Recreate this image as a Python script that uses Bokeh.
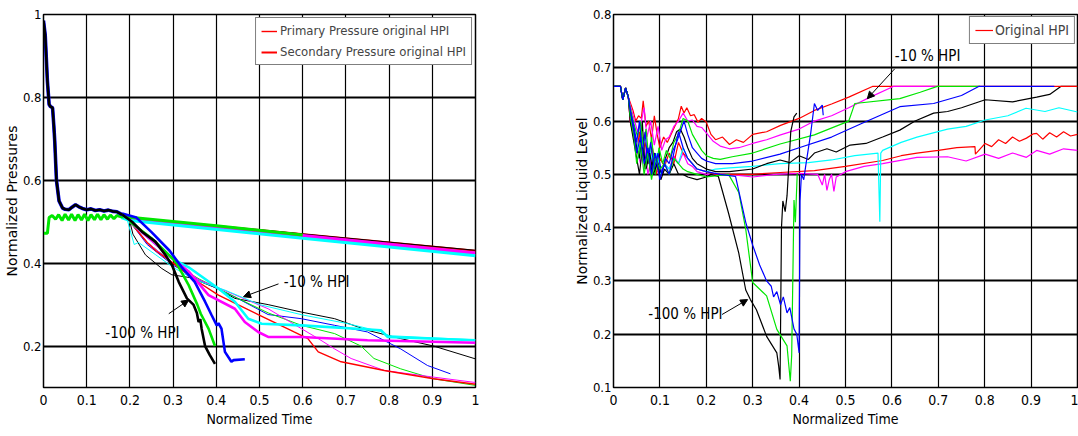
from bokeh.plotting import figure
from bokeh.layouts import row
from bokeh.models import Range1d, FixedTicker, Legend, LegendItem, Arrow, NormalHead, ColumnDataSource
from bokeh.core.properties import value
from bokeh.embed import file_html
from bokeh.resources import INLINE

NARROW = "DejaVu Sans Condensed"
SANS = "DejaVu Sans"
RED, MAG, GRN, BLU, BLK, CYN = "#ff0000", "#ff00ff", "#00e600", "#0000ff", "#000000", "#00ffff"

XTICKS = [0, 0.1, 0.2, 0.3, 0.4, 0.5, 0.6, 0.7, 0.8, 0.9, 1]
YTICKS_L = [0.2, 0.4, 0.6, 0.8, 1]
YTICKS_R = [0.1, 0.2, 0.3, 0.4, 0.5, 0.6, 0.7, 0.8]

# ---------------- left panel: pressures ----------------
P_COMMON_X = [0, 0.004, 0.009, 0.013, 0.016, 0.021, 0.024, 0.026, 0.03, 0.036, 0.044, 0.05, 0.059, 0.066, 0.074,
              0.082, 0.09, 0.1, 0.11, 0.12, 0.13, 0.14, 0.15, 0.16, 0.17, 0.182]
P_COMMON_Y = [0.985, 0.95, 0.84, 0.783, 0.778, 0.775, 0.73, 0.695, 0.6, 0.55, 0.533, 0.53, 0.529, 0.535, 0.541,
              0.536, 0.532, 0.529, 0.531, 0.527, 0.529, 0.526, 0.528, 0.525, 0.524, 0.517]

P_BLK100_X = [0.182, 0.205, 0.228, 0.259, 0.282, 0.297, 0.313, 0.332, 0.347, 0.355, 0.359, 0.363, 0.366, 0.374, 0.385, 0.397]
P_BLK100_Y = [0.517, 0.50, 0.476, 0.452, 0.42, 0.396, 0.355, 0.315, 0.3, 0.28, 0.258, 0.265, 0.242, 0.2, 0.178, 0.157]
P_BLU_X = [0.182, 0.215, 0.25, 0.292, 0.32, 0.35, 0.374, 0.389, 0.401, 0.405, 0.412, 0.42, 0.435, 0.44, 0.466]
P_BLU_Y = [0.52, 0.51, 0.475, 0.43, 0.39, 0.355, 0.307, 0.275, 0.25, 0.255, 0.242, 0.186, 0.162, 0.166, 0.168]
P_GRN_X = [0.2, 0.25, 0.3, 0.308, 0.336, 0.356, 0.364, 0.382, 0.397]
P_GRN_Y = [0.5, 0.46, 0.41, 0.4, 0.347, 0.3, 0.278, 0.242, 0.2]
P_MAG_X = [0.2, 0.25, 0.3, 0.336, 0.382, 0.443, 0.466, 0.497, 0.52, 0.597, 0.75, 1.0]
P_MAG_Y = [0.5, 0.455, 0.41, 0.38, 0.323, 0.29, 0.258, 0.234, 0.222, 0.222, 0.214, 0.208]
P_CYN_X = [0.2, 0.25, 0.3, 0.336, 0.405, 0.443, 0.474, 0.505, 0.597, 0.781, 0.797, 1.0]
P_CYN_Y = [0.5, 0.455, 0.41, 0.39, 0.339, 0.307, 0.266, 0.254, 0.25, 0.238, 0.222, 0.214]

T_BLK_X = [0.2, 0.207, 0.236, 0.274, 0.297, 0.34, 0.4, 0.443, 0.52, 0.597, 0.674, 0.75, 0.827, 0.903, 1.0]
T_BLK_Y = [0.5, 0.47, 0.42, 0.387, 0.372, 0.365, 0.34, 0.315, 0.3, 0.282, 0.266, 0.238, 0.218, 0.2, 0.169]
T_BLU_X = [0.2, 0.24, 0.3, 0.36, 0.44, 0.52, 0.597, 0.674, 0.75, 0.827, 0.889, 0.942]
T_BLU_Y = [0.5, 0.445, 0.395, 0.36, 0.32, 0.276, 0.266, 0.25, 0.234, 0.193, 0.153, 0.133]
T_GRN_X = [0.2, 0.24, 0.3, 0.36, 0.44, 0.52, 0.597, 0.674, 0.735, 0.765, 0.827, 0.903, 1.0]
T_GRN_Y = [0.5, 0.45, 0.40, 0.362, 0.32, 0.28, 0.25, 0.23, 0.2, 0.17, 0.145, 0.121, 0.105]
T_RED_X = [0.2, 0.24, 0.26, 0.3, 0.35, 0.405, 0.497, 0.58, 0.612, 0.636, 0.689, 0.789, 0.903, 1.0]
T_RED_Y = [0.5, 0.45, 0.43, 0.4, 0.36, 0.323, 0.276, 0.234, 0.218, 0.186, 0.162, 0.141, 0.121, 0.108]
T_MAG_X = [0.2, 0.24, 0.3, 0.36, 0.44, 0.52, 0.597, 0.636, 0.674, 0.712, 0.789, 0.903, 1.0]
T_MAG_Y = [0.5, 0.45, 0.4, 0.36, 0.325, 0.29, 0.242, 0.218, 0.193, 0.17, 0.141, 0.125, 0.112]
T_CYN_X = [0.18, 0.195, 0.21, 0.22, 0.26, 0.3, 0.35, 0.42, 0.5, 0.6, 0.7, 0.78, 0.8, 1.0]
T_CYN_Y = [0.517, 0.5, 0.445, 0.45, 0.42, 0.39, 0.36, 0.335, 0.3, 0.275, 0.255, 0.235, 0.225, 0.215]

S_GRN_X = [0, 0.009, 0.013, 0.02, 0.028, 0.035, 0.043, 0.05, 0.058, 0.065, 0.073, 0.08, 0.088, 0.095, 0.103, 0.11,
           0.118, 0.125, 0.133, 0.14, 0.148, 0.155, 0.163, 0.17, 0.18, 0.2, 0.4, 0.6]
S_GRN_Y = [0.472, 0.472, 0.51, 0.515, 0.506, 0.517, 0.503, 0.518, 0.504, 0.518, 0.503, 0.517, 0.504, 0.518, 0.503, 0.517,
           0.505, 0.518, 0.505, 0.517, 0.506, 0.516, 0.507, 0.515, 0.512, 0.511, 0.49, 0.468]
S_MAG_X = [0.2, 0.6, 1.0]
S_MAG_Y = [0.508, 0.466, 0.424]
S_CYN_X = [0.18, 0.2, 0.6, 1.0]
S_CYN_Y = [0.51, 0.503, 0.46, 0.418]
S_RED_X = [0.18, 1.0]
S_RED_Y = [0.512, 0.43]
S_BLK_X = [0.2, 1.0]
S_BLK_Y = [0.51, 0.431]

ANN_L_TEXT = ["-10 % HPI", "-100 % HPI"]
ANN_L_TX = [0.556, 0.143]
ANN_L_TY = [0.355, 0.232]
ANN_L_AX0 = [0.544, 0.29]
ANN_L_AY0 = [0.35, 0.278]
ANN_L_AX1 = [0.463, 0.336]
ANN_L_AY1 = [0.319, 0.311]

# ---------------- right panel: liquid level ----------------
L_START_X = [0, 0.015, 0.02, 0.026, 0.032]
L_START_Y = [0.665, 0.665, 0.64, 0.662, 0.645]

L_RED_X = [0.036, 0.042, 0.048, 0.054, 0.06, 0.064, 0.07, 0.076, 0.082, 0.088, 0.094, 0.1, 0.108, 0.116, 0.124, 0.132,
           0.14, 0.146, 0.152, 0.158, 0.166, 0.174, 0.182, 0.19, 0.2, 0.21, 0.22, 0.235, 0.25, 0.265, 0.28, 0.3, 0.33,
           0.36, 0.4, 0.433, 0.47, 0.507, 0.558, 1.0]
L_RED_Y = [0.635, 0.62, 0.6, 0.61, 0.605, 0.638, 0.59, 0.6, 0.565, 0.61, 0.575, 0.55, 0.57, 0.56, 0.575, 0.59,
           0.605, 0.628, 0.615, 0.625, 0.61, 0.612, 0.598, 0.605, 0.598, 0.575, 0.565, 0.57, 0.556, 0.565, 0.56, 0.575,
           0.58, 0.592, 0.605, 0.62, 0.632, 0.645, 0.665, 0.665]
L_MAG_X = [0.036, 0.044, 0.052, 0.06, 0.066, 0.072, 0.08, 0.088, 0.096, 0.104, 0.112, 0.12, 0.13, 0.14, 0.15, 0.16,
           0.17, 0.18, 0.19, 0.2, 0.215, 0.23, 0.25, 0.27, 0.3, 0.33, 0.36, 0.4, 0.433, 0.47, 0.507, 0.551, 0.603, 0.7]
L_MAG_Y = [0.63, 0.605, 0.58, 0.6, 0.625, 0.57, 0.6, 0.555, 0.59, 0.545, 0.565, 0.57, 0.59, 0.6, 0.615, 0.6,
           0.602, 0.59, 0.588, 0.578, 0.562, 0.553, 0.548, 0.55, 0.558, 0.565, 0.574, 0.585, 0.6, 0.61, 0.625, 0.644,
           0.665, 0.665]
L_GRN_X = [0.036, 0.044, 0.052, 0.058, 0.064, 0.07, 0.076, 0.082, 0.09, 0.098, 0.106, 0.114, 0.122, 0.13, 0.14, 0.15,
           0.16, 0.17, 0.18, 0.19, 0.2, 0.215, 0.23, 0.256, 0.3, 0.359, 0.433, 0.507, 0.515, 0.52, 0.617, 0.661, 0.698, 0.79]
L_GRN_Y = [0.625, 0.595, 0.57, 0.6, 0.55, 0.585, 0.53, 0.57, 0.5, 0.55, 0.52, 0.545, 0.53, 0.56, 0.575, 0.605,
           0.6, 0.575, 0.56, 0.545, 0.535, 0.53, 0.528, 0.533, 0.54, 0.557, 0.574, 0.6, 0.62, 0.633, 0.642, 0.654, 0.665, 0.665]
L_BLU_X = [0.036, 0.044, 0.05, 0.056, 0.062, 0.068, 0.074, 0.08, 0.088, 0.096, 0.104, 0.112, 0.12, 0.128, 0.136, 0.144,
           0.152, 0.16, 0.17, 0.18, 0.19, 0.2, 0.22, 0.256, 0.3, 0.359, 0.4, 0.47, 0.536, 0.617, 0.69, 0.75, 0.787, 0.95]
L_BLU_Y = [0.62, 0.59, 0.56, 0.6, 0.54, 0.58, 0.52, 0.56, 0.51, 0.54, 0.5, 0.53, 0.52, 0.545, 0.56, 0.58,
           0.6, 0.575, 0.55, 0.54, 0.53, 0.525, 0.52, 0.52, 0.525, 0.538, 0.55, 0.57, 0.596, 0.627, 0.633, 0.648, 0.665, 0.665]
L_BLK_X = [0.036, 0.044, 0.05, 0.056, 0.062, 0.068, 0.074, 0.08, 0.088, 0.096, 0.104, 0.112, 0.12, 0.128, 0.136, 0.144,
           0.152, 0.16, 0.17, 0.18, 0.2, 0.22, 0.25, 0.3, 0.33, 0.359, 0.38, 0.4, 0.42, 0.433, 0.46, 0.48, 0.51, 0.544,
           0.58, 0.617, 0.65, 0.69, 0.72, 0.75, 0.801, 0.86, 0.912, 0.94, 0.964, 1.0]
L_BLK_Y = [0.615, 0.58, 0.55, 0.53, 0.6, 0.51, 0.55, 0.5, 0.54, 0.52, 0.5, 0.53, 0.55, 0.56, 0.58, 0.585,
           0.57, 0.55, 0.53, 0.52, 0.51, 0.505, 0.505, 0.51, 0.52, 0.527, 0.522, 0.535, 0.528, 0.54, 0.548, 0.542, 0.555,
           0.558, 0.57, 0.583, 0.6, 0.615, 0.618, 0.625, 0.64, 0.636, 0.645, 0.65, 0.665, 0.665]
L_CYN_X = [0.036, 0.044, 0.05, 0.056, 0.062, 0.07, 0.078, 0.086, 0.094, 0.102, 0.11, 0.12, 0.13, 0.14, 0.15, 0.16,
           0.17, 0.18, 0.2, 0.22, 0.25, 0.3, 0.359, 0.42, 0.47, 0.52, 0.57, 0.574, 0.576, 0.58, 0.62, 0.654, 0.72,
           0.76, 0.801, 0.85, 0.889, 0.93, 0.96, 1.0]
L_CYN_Y = [0.61, 0.58, 0.56, 0.53, 0.57, 0.52, 0.55, 0.51, 0.54, 0.5, 0.52, 0.51, 0.53, 0.52, 0.55, 0.53,
           0.52, 0.51, 0.505, 0.51, 0.512, 0.515, 0.52, 0.522, 0.527, 0.535, 0.54, 0.411, 0.54, 0.545, 0.56, 0.57, 0.585,
           0.59, 0.602, 0.61, 0.624, 0.618, 0.625, 0.617]
L_RED2_X = [0.036, 0.044, 0.05, 0.056, 0.062, 0.068, 0.076, 0.084, 0.092, 0.1, 0.11, 0.12, 0.13, 0.14, 0.15, 0.16,
            0.17, 0.18, 0.2, 0.22, 0.25, 0.3, 0.35, 0.433, 0.5, 0.58, 0.62, 0.654, 0.7, 0.74, 0.779, 0.78, 0.801,
            0.815, 0.83, 0.845, 0.86, 0.875, 0.89, 0.905, 0.912, 0.925, 0.94, 0.955, 0.97, 0.985, 1.0]
L_RED2_Y = [0.6, 0.57, 0.54, 0.58, 0.53, 0.56, 0.52, 0.55, 0.5, 0.53, 0.515, 0.54, 0.52, 0.56, 0.54, 0.53,
            0.52, 0.51, 0.505, 0.5, 0.5, 0.5, 0.503, 0.507, 0.515, 0.526, 0.535, 0.54, 0.545, 0.55, 0.552, 0.538, 0.558,
            0.552, 0.565, 0.558, 0.57, 0.562, 0.568, 0.576, 0.577, 0.566, 0.578, 0.57, 0.58, 0.572, 0.575]
L_MAG2_X = [0.036, 0.044, 0.05, 0.058, 0.066, 0.074, 0.082, 0.09, 0.1, 0.11, 0.12, 0.13, 0.14, 0.15, 0.16, 0.17,
            0.18, 0.2, 0.25, 0.3, 0.35, 0.4, 0.44, 0.45, 0.455, 0.46, 0.465, 0.47, 0.475, 0.48, 0.49, 0.5, 0.54,
            0.58, 0.654, 0.72, 0.76, 0.801, 0.83, 0.86, 0.89, 0.912, 0.94, 0.97, 1.0]
L_MAG2_Y = [0.6, 0.57, 0.55, 0.52, 0.56, 0.5, 0.53, 0.51, 0.5, 0.52, 0.51, 0.535, 0.52, 0.54, 0.52, 0.515,
            0.505, 0.5, 0.5, 0.495, 0.5, 0.502, 0.5, 0.48, 0.5, 0.47, 0.49, 0.5, 0.468, 0.495, 0.5, 0.505, 0.515,
            0.52, 0.532, 0.533, 0.525, 0.538, 0.53, 0.54, 0.532, 0.545, 0.538, 0.548, 0.545]
L_BLKP_X = [0.036, 0.044, 0.05, 0.056, 0.062, 0.07, 0.078, 0.086, 0.094, 0.102, 0.11, 0.12, 0.13, 0.14, 0.15, 0.16,
            0.18, 0.2, 0.21, 0.226, 0.248, 0.27, 0.285, 0.295, 0.308, 0.33, 0.352, 0.356, 0.359, 0.362, 0.365, 0.37,
            0.374, 0.378, 0.382, 0.389, 0.395]
L_BLKP_Y = [0.6, 0.56, 0.53, 0.5, 0.55, 0.51, 0.54, 0.5, 0.52, 0.49, 0.51, 0.5, 0.52, 0.5, 0.5, 0.495,
            0.49, 0.495, 0.5, 0.496, 0.427, 0.352, 0.283, 0.265, 0.246, 0.196, 0.165, 0.14, 0.115, 0.4, 0.45, 0.43,
            0.46, 0.52, 0.58, 0.608, 0.615]
L_GRNP_X = [0.036, 0.044, 0.05, 0.058, 0.066, 0.074, 0.082, 0.09, 0.1, 0.11, 0.12, 0.13, 0.14, 0.15, 0.16, 0.18,
            0.2, 0.22, 0.248, 0.27, 0.285, 0.3, 0.33, 0.352, 0.374, 0.378, 0.381, 0.384, 0.389, 0.392, 0.396]
L_GRNP_Y = [0.61, 0.57, 0.52, 0.56, 0.5, 0.54, 0.49, 0.53, 0.51, 0.52, 0.5, 0.53, 0.52, 0.51, 0.505, 0.5,
            0.495, 0.497, 0.5, 0.466, 0.397, 0.297, 0.272, 0.209, 0.178, 0.14, 0.112, 0.16, 0.452, 0.41, 0.502]
L_BLUP_X = [0.036, 0.044, 0.05, 0.058, 0.066, 0.074, 0.082, 0.09, 0.1, 0.11, 0.12, 0.13, 0.14, 0.15, 0.16, 0.18,
            0.2, 0.23, 0.263, 0.285, 0.3, 0.315, 0.33, 0.34, 0.345, 0.352, 0.36, 0.366, 0.374, 0.38, 0.389, 0.395,
            0.4, 0.402, 0.405, 0.41, 0.415, 0.425, 0.433, 0.44, 0.45, 0.452]
L_BLUP_Y = [0.62, 0.58, 0.54, 0.57, 0.52, 0.55, 0.5, 0.54, 0.49, 0.52, 0.5, 0.54, 0.58, 0.55, 0.53, 0.51,
            0.505, 0.5, 0.496, 0.41, 0.367, 0.33, 0.3, 0.29, 0.27, 0.28, 0.255, 0.27, 0.24, 0.25, 0.21, 0.2,
            0.165, 0.45, 0.5, 0.49, 0.52, 0.577, 0.633, 0.62, 0.63, 0.611]

ANN_R_TEXT = ["-10 % HPI", "-100 % HPI"]
ANN_R_TX = [0.606, 0.075]
ANN_R_TY = [0.722, 0.238]
ANN_R_AX0 = [0.606, 0.234]
ANN_R_AY0 = [0.698, 0.237]
ANN_R_AX1 = [0.547, 0.289]
ANN_R_AY1 = [0.642, 0.265]


def style(p, yticks, ylabel):
    p.xaxis.ticker = FixedTicker(ticks=XTICKS)
    p.yaxis.ticker = FixedTicker(ticks=yticks)
    p.xaxis.major_label_overrides = {0: "0", 1: "1"}
    p.yaxis.major_label_overrides = {1: "1"}
    for ax in (p.xaxis, p.yaxis):
        ax.major_tick_in = 4
        ax.major_tick_out = 0
        ax.minor_tick_in = 0
        ax.minor_tick_out = 0
        ax.axis_line_color = "black"
        ax.major_label_text_font = NARROW
        ax.major_label_text_font_size = "14px"
        ax.major_label_text_color = "black"
        ax.axis_label_text_font_style = "normal"
        ax.axis_label_text_color = "black"
    p.yaxis.major_label_text_font_size = "13px"
    p.xaxis.axis_label = "Normalized Time"
    p.xaxis.axis_label_text_font = NARROW
    p.xaxis.axis_label_text_font_size = "14px"
    p.xaxis.axis_label_standoff = 3
    p.xaxis.major_label_standoff = 7
    p.yaxis.axis_label = ylabel
    p.yaxis.axis_label_text_font = SANS
    p.yaxis.axis_label_text_font_size = "14px"
    p.yaxis.axis_label_standoff = 0
    p.yaxis.major_label_standoff = 2
    p.xgrid.grid_line_color = "black"
    p.xgrid.grid_line_width = 1.2
    p.ygrid.grid_line_color = "black"
    p.ygrid.grid_line_width = 2
    p.outline_line_color = "black"
    p.outline_line_width = 1.5


def annotate(p, texts, tx, ty, ax0, ay0, ax1, ay1):
    src = ColumnDataSource(dict(x=tx, y=ty, t=texts))
    p.text(x="x", y="y", text="t", source=src, text_font=value(NARROW), text_font_size="15px",
           text_baseline="middle", text_align="left", text_color="black")
    for i in range(len(ax0)):
        p.add_layout(Arrow(end=NormalHead(size=7, fill_color="black", line_color="black"),
                           x_start=ax0[i], y_start=ay0[i], x_end=ax1[i], y_end=ay1[i],
                           line_color="black", line_width=1))


# ---- left figure ----
p1 = figure(width=540, height=434, output_backend="svg", toolbar_location=None,
            x_range=Range1d(0, 1), y_range=Range1d(0.1, 1),
            min_border_left=41, min_border_right=65, min_border_top=14, min_border_bottom=47)
style(p1, YTICKS_L, "Normalized Pressures")

THICK = 2.6
r_sec_red = p1.line(S_RED_X, S_RED_Y, color=RED, line_width=2)
p1.line(S_BLK_X, S_BLK_Y, color=BLK, line_width=1)
p1.line(S_MAG_X, S_MAG_Y, color=MAG, line_width=3.5)
p1.line(S_CYN_X, S_CYN_Y, color=CYN, line_width=3)
p1.line(S_GRN_X, S_GRN_Y, color=GRN, line_width=3)

for xs, ys, c in [(T_BLK_X, T_BLK_Y, BLK), (T_BLU_X, T_BLU_Y, BLU), (T_GRN_X, T_GRN_Y, GRN),
                  (T_MAG_X, T_MAG_Y, MAG), (T_CYN_X, T_CYN_Y, CYN)]:
    p1.line(xs, ys, color=c, line_width=1)
r_prim_red = p1.line(T_RED_X, T_RED_Y, line_color=RED, line_width=1.4)

p1.line(P_CYN_X, P_CYN_Y, color=CYN, line_width=THICK)
p1.line(P_MAG_X, P_MAG_Y, color=MAG, line_width=THICK)
p1.line(P_GRN_X, P_GRN_Y, color=GRN, line_width=THICK)
p1.line(P_BLU_X, P_BLU_Y, color=BLU, line_width=THICK)
p1.line(P_COMMON_X, P_COMMON_Y, color=BLU, line_width=THICK + 1)
p1.line(P_COMMON_X, P_COMMON_Y, color=BLK, line_width=THICK)
p1.line(P_BLK100_X, P_BLK100_Y, color=BLK, line_width=THICK)

annotate(p1, ANN_L_TEXT, ANN_L_TX, ANN_L_TY, ANN_L_AX0, ANN_L_AY0, ANN_L_AX1, ANN_L_AY1)

leg1 = Legend(items=[LegendItem(label="Primary Pressure original HPI", renderers=[r_prim_red]),
                     LegendItem(label="Secondary Pressure original HPI", renderers=[r_sec_red])],
              location="top_right", margin=3, padding=5, spacing=6, label_standoff=3,
              glyph_width=16, glyph_height=14, label_text_font=NARROW, label_text_font_size="13px",
              border_line_color="black", border_line_width=1, background_fill_alpha=1)
p1.add_layout(leg1)

# ---- right figure ----
p2 = figure(width=538, height=434, output_backend="svg", toolbar_location=None,
            x_range=Range1d(0, 1), y_range=Range1d(0.1, 0.8),
            min_border_left=73, min_border_right=1, min_border_top=14, min_border_bottom=46)
style(p2, YTICKS_R, "Normalized Liquid Level")

LW = 1.2
def lvl(xs, ys, c):
    return p2.line(L_START_X + xs, L_START_Y + ys, color=c, line_width=LW)

lvl(L_MAG2_X, L_MAG2_Y, MAG)
lvl(L_RED2_X, L_RED2_Y, RED)
lvl(L_CYN_X, L_CYN_Y, CYN)
lvl(L_BLK_X, L_BLK_Y, BLK)
r_orig = lvl(L_RED_X, L_RED_Y, RED)
lvl(L_MAG_X, L_MAG_Y, MAG)
lvl(L_GRN_X, L_GRN_Y, GRN)
lvl(L_BLU_X, L_BLU_Y, BLU)
lvl(L_BLKP_X, L_BLKP_Y, BLK)
lvl(L_GRNP_X, L_GRNP_Y, GRN)
lvl(L_BLUP_X, L_BLUP_Y, BLU)

annotate(p2, ANN_R_TEXT, ANN_R_TX, ANN_R_TY, ANN_R_AX0, ANN_R_AY0, ANN_R_AX1, ANN_R_AY1)

leg2 = Legend(items=[LegendItem(label="Original HPI", renderers=[r_orig])],
              location="top_right", margin=2, padding=5, spacing=4, label_standoff=2,
              glyph_width=18, glyph_height=14, label_text_font=NARROW, label_text_font_size="14px",
              border_line_color="black", border_line_width=1.5, background_fill_alpha=1)
p2.add_layout(leg2)

layout = row(p1, p2)
open("out.html", "w").write(file_html(layout, INLINE))
